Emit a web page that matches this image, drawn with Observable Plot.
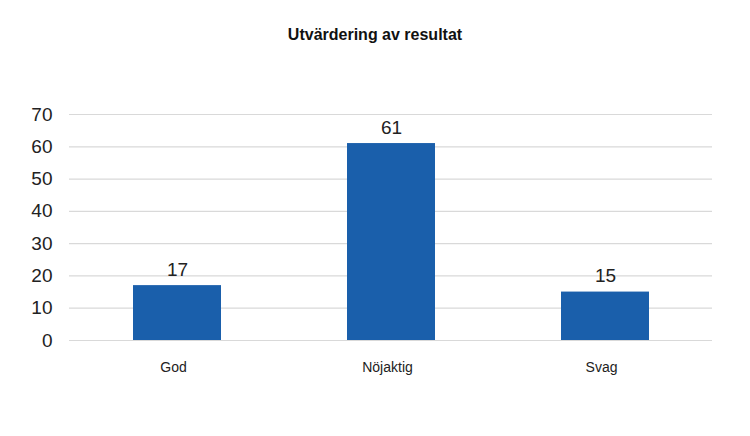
<!DOCTYPE html>
<html>
<head>
<meta charset="utf-8">
<script src="https://cdn.jsdelivr.net/npm/d3@7"></script>
<script src="https://cdn.jsdelivr.net/npm/@observablehq/plot@0.6"></script>
<style>
  body { margin: 0; background: #fff; font-family: "Liberation Sans", Arial, sans-serif; }
  #title { height: 60px; width: 750px; text-align: center; font-weight: bold; font-size: 16px; line-height: 70px; color: #111; }
</style>
</head>
<body>
<div id="title">Utvärdering av resultat</div>
<div id="chart"></div>
<script>
const categories = ["God", "Nöjaktig", "Svag"];
const values = [17, 61, 15];
const yTicks = [0, 10, 20, 30, 40, 50, 60, 70];

const data = categories.map((c, i) => ({category: c, value: values[i]}));

const chart = Plot.plot({
  width: 750,
  height: 376,
  marginLeft: 69,
  marginRight: 38,
  marginTop: 54,
  marginBottom: 96,
  style: {fontFamily: "'Liberation Sans', Arial, sans-serif", color: "#222", background: "#fff"},
  x: {domain: categories, paddingInner: 0.59, paddingOuter: 0.295, label: null},
  y: {domain: [0, 70], ticks: yTicks, label: null},
  marks: [
    Plot.gridY(yTicks, {stroke: "#d9d9d9", strokeOpacity: 1, strokeWidth: 1.2}),
    Plot.barY(data, {x: "category", y: "value", fill: "#1a5fab"}),
    Plot.text(data, {x: "category", y: "value", text: d => String(d.value), dy: -16, fontSize: 19, fill: "#222"}),
    Plot.axisY(yTicks, {tickSize: 0, tickPadding: 17, fontSize: 19, label: null, fill: "#222"}),
    Plot.axisX({tickSize: 0, tickPadding: 22, dx: -4, fontSize: 14, label: null, fill: "#222"})
  ]
});
document.getElementById("chart").appendChild(chart);
</script>
</body>
</html>
